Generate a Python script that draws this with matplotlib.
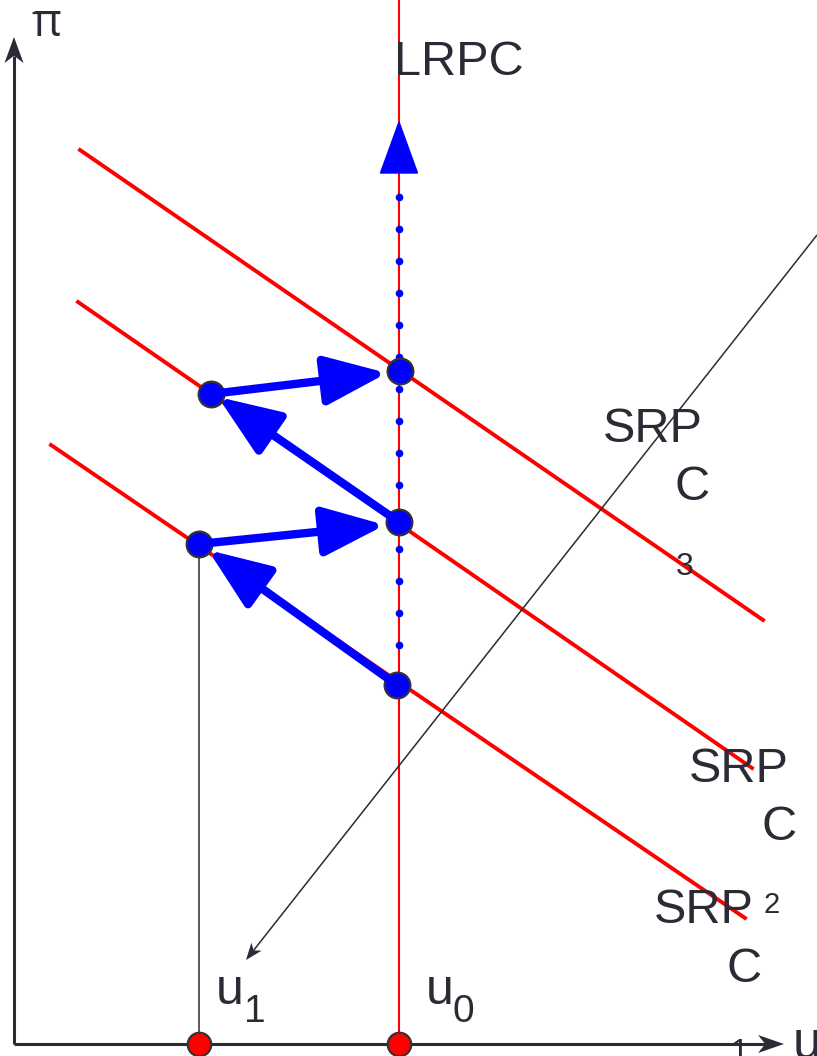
import numpy as np
import matplotlib.pyplot as plt
from matplotlib.patches import FancyArrowPatch, Polygon

plt.rcParams['font.family'] = ['Liberation Sans', 'DejaVu Sans']

# canvas in pixel units (y grows downward)
W, H = 817, 1056
dark = '#2b2b35'
red = '#ff0000'
blue = '#0000ff'

# axes of the diagram
origin = (14, 1044)
y_axis_tip = 37
x_axis_tip = 784

# long-run Phillips curve
lrpc_x = 399
lrpc_arrow_tip = 122
lrpc_arrow_base = 173
lrpc_dot_ys = [197, 229, 261, 293, 325, 357, 389, 421, 453, 485, 517,
               549, 581, 613, 645, 677]

# short-run Phillips curves (end points)
srpc1 = [(51, 445), (745, 918)]
srpc2 = [(78, 302), (752, 768)]
srpc3 = [(80, 150), (763, 620)]

# expectations line (arrow at lower end)
exp_line = [(817, 235), (246, 960)]

# equilibrium points
eq_x = [400, 399, 397, 211, 199]
eq_y = [371, 522, 685, 394, 544]

# adjustment arrows: (start, tip)
moves = [((397, 685), (208, 550)),
         ((199, 544), (385, 525)),
         ((399, 522), (218, 397)),
         ((211, 394), (387, 373))]

# unemployment rates on the horizontal axis
u_marks = [199, 399]
u1_drop = (199, 544)

fig = plt.figure(figsize=(W / 100, H / 100), dpi=100)
ax = fig.add_axes([0, 0, 1, 1])
ax.set_xlim(0, W)
ax.set_ylim(H, 0)
ax.axis('off')


def stealth(tail, tip, length, half, lw, color, z):
    tail = np.array(tail, float)
    tip = np.array(tip, float)
    d = (tip - tail) / np.hypot(*(tip - tail))
    n = np.array([-d[1], d[0]])
    base = tip - d * length
    notch = tip - d * length * 0.72
    ax.plot([tail[0], notch[0]], [tail[1], notch[1]], color=color, lw=lw,
            zorder=z, solid_capstyle='butt')
    ax.add_patch(Polygon([tip, base + n * half, notch, base - n * half],
                         closed=True, color=color, lw=0, zorder=z))


# axes arrows
stealth(origin, (origin[0], y_axis_tip), 26, 9.5, 2.2, dark, 3)
stealth(origin, (x_axis_tip, origin[1]), 26, 9, 2.2, dark, 3)

# LRPC
ax.plot([lrpc_x, lrpc_x], [0, origin[1]], color=red, lw=1.5, zorder=2)
ax.plot([lrpc_x] * len(lrpc_dot_ys), lrpc_dot_ys, 'o', color=blue,
        ms=5.5, mew=0, zorder=3)
ax.add_patch(Polygon([(lrpc_x, lrpc_arrow_tip),
                      (lrpc_x - 18.5, lrpc_arrow_base),
                      (lrpc_x + 18.5, lrpc_arrow_base)],
                     closed=True, color=blue, zorder=4))

# SRPCs
for line in (srpc1, srpc2, srpc3):
    ax.plot([line[0][0], line[1][0]], [line[0][1], line[1][1]],
            color=red, lw=2.8, zorder=2)

# expectations line
stealth(exp_line[0], exp_line[1], 17, 6.5, 1.1, dark, 2)

# drop line from u1 point
ax.plot([u1_drop[0], u1_drop[0]], [u1_drop[1], origin[1]], color=dark,
        lw=1.1, zorder=2)

# equilibrium dots
ax.plot(eq_x, eq_y, 'o', ms=18.5, color=blue, mec='#333333', mew=1.6,
        zorder=5)

# movement arrows
for start, tip in moves:
    ax.add_patch(FancyArrowPatch(start, tip,
                                 arrowstyle='-|>,head_length=38,head_width=15',
                                 mutation_scale=1, color=blue, lw=6,
                                 shrinkA=0, shrinkB=0, zorder=6))

# red dots on the u axis
ax.plot(u_marks, [origin[1]] * len(u_marks), 'o', ms=17, color=red,
        mec='#333333', mew=1.5, zorder=7, clip_on=False)

# labels
txt = dict(color=dark, ha='left', va='baseline')
ax.text(32, 36, 'π', fontsize=33, family=['Open Sans', 'DejaVu Sans'], **txt)
ax.text(394, 75, 'LRPC', fontsize=35, **txt)
ax.text(603, 442, 'SRP', fontsize=35, **txt)
ax.text(675, 500, 'C', fontsize=35, **txt)
ax.text(676, 575, '3', fontsize=23, **txt)
ax.text(689, 782, 'SRP', fontsize=35, **txt)
ax.text(762, 840, 'C', fontsize=35, **txt)
ax.text(654, 923, 'SRP', fontsize=35, **txt)
ax.text(764, 913, '2', fontsize=21, **txt)
ax.text(727, 982, 'C', fontsize=35, **txt)
ax.text(731, 1061, '1', fontsize=23, **txt)
ax.text(216, 1004, 'u', fontsize=36, **txt)
ax.text(244, 1022, '1', fontsize=28, **txt)
ax.text(426, 1004, 'u', fontsize=36, **txt)
ax.text(453, 1022, '0', fontsize=28, **txt)
ax.text(793, 1057, 'u', fontsize=37, **txt)

fig.savefig('out.png', dpi=100)
